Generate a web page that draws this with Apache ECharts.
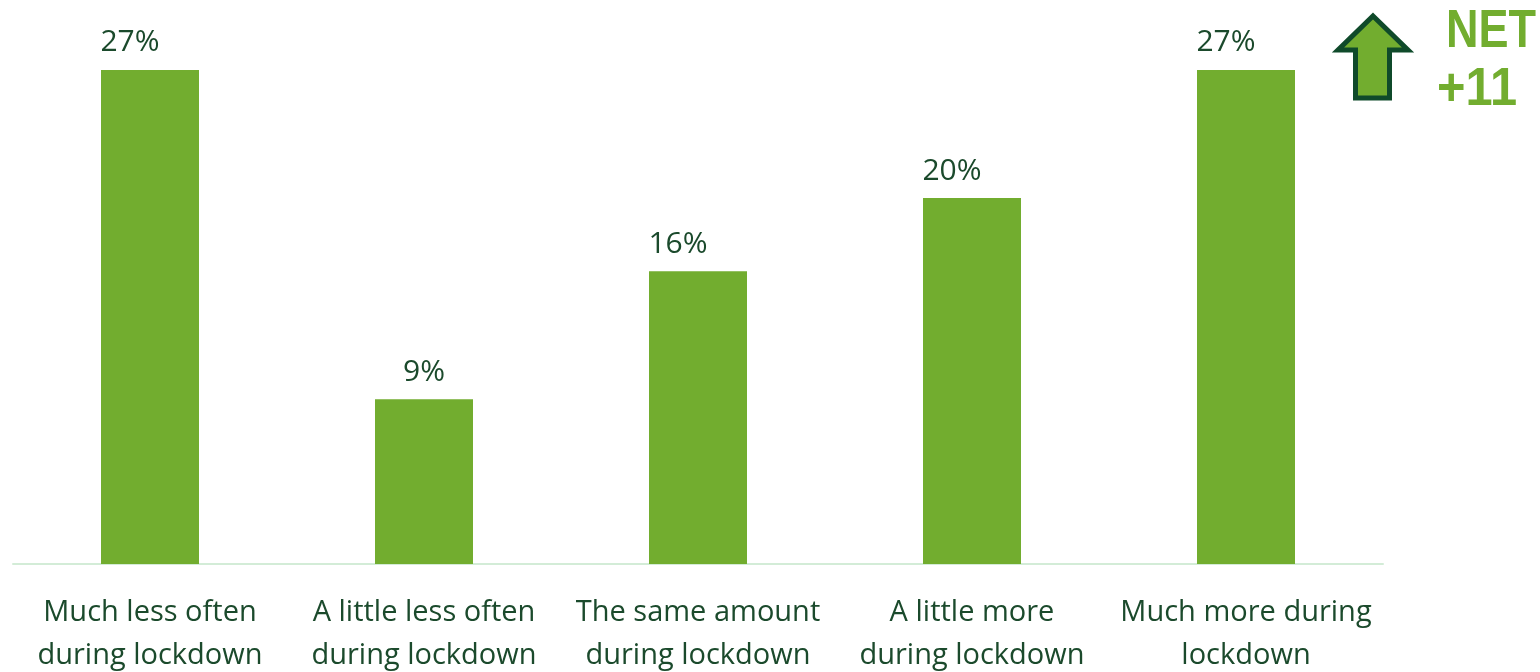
<!DOCTYPE html>
<html>
<head>
<meta charset="utf-8">
<script src="https://cdn.jsdelivr.net/npm/echarts@6/dist/echarts.min.js"></script>
<style>
  html, body { margin: 0; padding: 0; background: #ffffff; }
  #chart { width: 1540px; height: 672px; }
</style>
</head>
<body>
<div id="chart"></div>
<script>
// Frequency during lockdown compared with before
const categories = [
  'Much less often\nduring lockdown',
  'A little less often\nduring lockdown',
  'The same amount\nduring lockdown',
  'A little more\nduring lockdown',
  'Much more during\nlockdown'
];
const shares = [27, 9, 16, 20, 27];
const netLabel = 'NET';
const netValue = '+11';

const darkGreen = '#1b4a2c';
const barGreen = '#72ad2f';
const font = '"Open Sans", "Noto Sans", sans-serif';

// two-digit value labels sit flush with the left edge of their bar
const barData = shares.map(v => ({
  value: v,
  label: { offset: [v >= 10 ? -20 : 0, 0] }
}));

const chart = echarts.init(document.getElementById('chart'));
chart.setOption({
  animation: false,
  grid: { left: 13, right: 157, top: 15, bottom: 108, outerBoundsMode: 'none', containLabel: false },
  xAxis: {
    type: 'category',
    data: categories,
    axisLine: { lineStyle: { color: '#d3ecd7', width: 2 } },
    axisTick: { show: false },
    axisLabel: {
      interval: 0,
      margin: 27,
      color: darkGreen,
      fontFamily: font,
      fontSize: 29,
      lineHeight: 43
    }
  },
  yAxis: {
    type: 'value',
    min: 0,
    max: 30,
    show: false,
    splitLine: { show: false }
  },
  series: [{
    type: 'bar',
    data: barData,
    barWidth: 98,
    itemStyle: { color: barGreen },
    label: {
      show: true,
      position: 'top',
      distance: 12,
      formatter: '{c}%',
      color: darkGreen,
      fontFamily: font,
      fontSize: 30
    }
  }],
  graphic: [
    {
      type: 'polygon',
      shape: {
        points: [
          [1373, 16], [1408, 50], [1389.5, 50], [1389.5, 98],
          [1355.5, 98], [1355.5, 50], [1338, 50]
        ]
      },
      style: { fill: barGreen, stroke: '#0f4a2a', lineWidth: 5, lineJoin: 'miter' }
    },
    {
      type: 'text',
      x: 1446,
      y: 6,
      scaleX: 0.85,
      style: {
        text: netLabel,
        fill: barGreen,
        verticalAlign: 'top',
        font: 'bold 53px "Liberation Sans", Arial, sans-serif'
      }
    },
    {
      type: 'text',
      x: 1437,
      y: 64,
      scaleX: 0.92,
      style: {
        text: netValue,
        fill: barGreen,
        verticalAlign: 'top',
        font: 'bold 53px "Liberation Sans", Arial, sans-serif'
      }
    }
  ]
});
</script>
</body>
</html>
